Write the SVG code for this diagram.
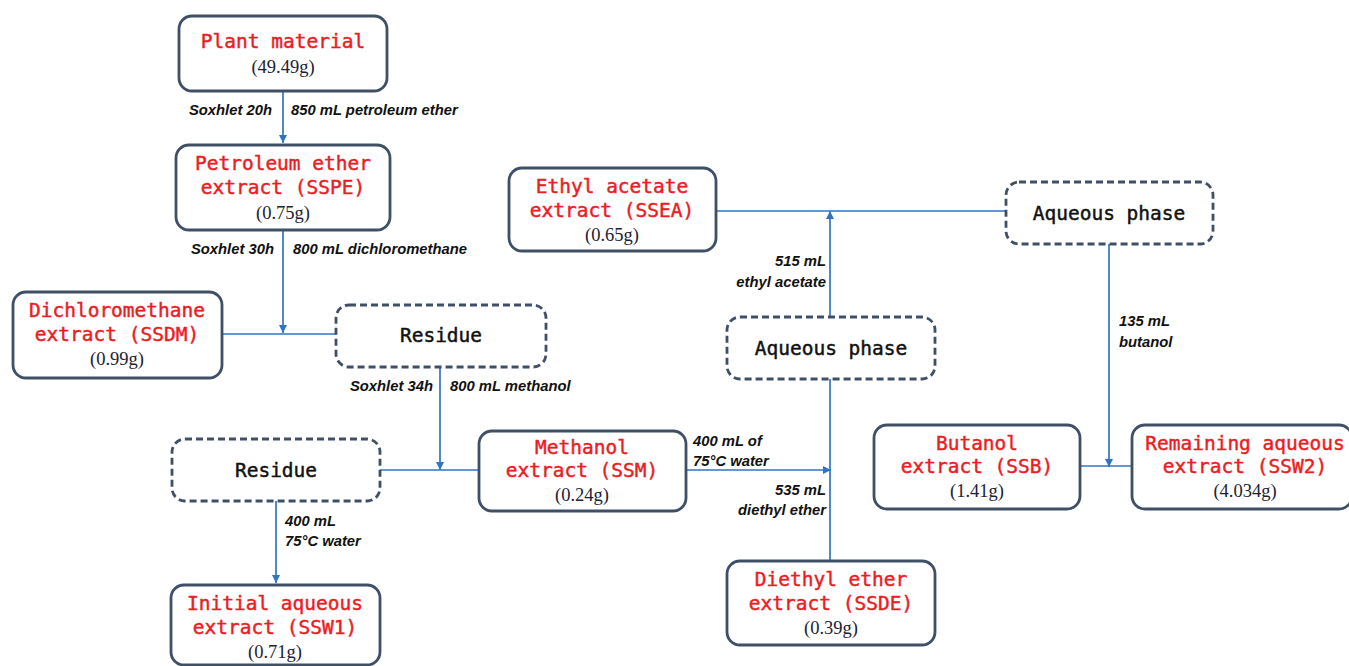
<svg xmlns="http://www.w3.org/2000/svg" width="1349" height="666" viewBox="0 0 1349 666">
<style>
.box{fill:#fff;stroke:#3f5066;stroke-width:2.8}
.dash{fill:#fff;stroke:#3f5066;stroke-width:2.8;stroke-dasharray:7 4}
.t{font-family:"DejaVu Sans Mono","Liberation Mono",monospace;font-size:19.5px;fill:#ec1c24;stroke:#ec1c24;stroke-width:0.45;text-anchor:middle}
.k{font-family:"DejaVu Sans Mono","Liberation Mono",monospace;font-size:19.5px;fill:#111;stroke:#111;stroke-width:0.45;text-anchor:middle}
.w{font-family:"Liberation Serif","Times New Roman",serif;font-size:18.5px;fill:#1c2233;text-anchor:middle}
.l{font-family:"Liberation Sans",Arial,sans-serif;font-size:14.8px;font-weight:bold;font-style:italic;fill:#111}
.r{text-anchor:end}
.c{fill:none;stroke:#2f75c5;stroke-width:1.7}
</style>
<defs>
<marker id="ah" viewBox="0 0 10 10" refX="10" refY="5" markerWidth="8" markerHeight="8" markerUnits="userSpaceOnUse" orient="auto">
<path d="M0,0 L10,5 L0,10 z" fill="#2f75c5"/>
</marker>
</defs>
<rect width="1349" height="666" fill="#fff"/>
<g id="connectors">
<path class="c" d="M283,92 V143" marker-end="url(#ah)"/>
<path class="c" d="M283,230 V333" marker-end="url(#ah)"/>
<path class="c" d="M222,334 H336"/>
<path class="c" d="M440,367 V470" marker-end="url(#ah)"/>
<path class="c" d="M380,470 H479"/>
<path class="c" d="M276,501 V583" marker-end="url(#ah)"/>
<path class="c" d="M686,470 H831" marker-end="url(#ah)"/>
<path class="c" d="M830,561 V379"/>
<path class="c" d="M830,317 V211" marker-end="url(#ah)"/>
<path class="c" d="M716,211 H1006"/>
<path class="c" d="M1109,244 V467" marker-end="url(#ah)"/>
<path class="c" d="M1080,466 H1132"/>
</g>
<g id="labels">
<text class="l r" x="272" y="115">Soxhlet 20h</text>
<text class="l" x="291" y="115">850 mL petroleum ether</text>
<text class="l r" x="274" y="254">Soxhlet 30h</text>
<text class="l" x="293" y="254">800 mL dichloromethane</text>
<text class="l r" x="433" y="391">Soxhlet 34h</text>
<text class="l" x="450" y="391">800 mL methanol</text>
<text class="l" x="285" y="526">400 mL</text>
<text class="l" x="285" y="546">75°C water</text>
<text class="l" x="693" y="446">400 mL of</text>
<text class="l" x="693" y="466">75°C water</text>
<text class="l r" x="826" y="495">535 mL</text>
<text class="l r" x="826" y="515">diethyl ether</text>
<text class="l r" x="826" y="266">515 mL</text>
<text class="l r" x="826" y="287">ethyl acetate</text>
<text class="l" x="1119" y="326">135 mL</text>
<text class="l" x="1119" y="347">butanol</text>
</g>
<g id="plant">
<rect class="box" x="179" y="16" width="208" height="75" rx="13"/>
<text class="t" x="283" y="48">Plant material</text>
<text class="w" x="283" y="73">(49.49g)</text>
</g>
<g id="sspe">
<rect class="box" x="176" y="145" width="214" height="85" rx="13"/>
<text class="t" x="283" y="170">Petroleum ether</text>
<text class="t" x="283" y="194">extract (SSPE)</text>
<text class="w" x="283" y="219">(0.75g)</text>
</g>
<g id="ssdm">
<rect class="box" x="13" y="292" width="209" height="86" rx="13"/>
<text class="t" x="117" y="317">Dichloromethane</text>
<text class="t" x="117" y="341">extract (SSDM)</text>
<text class="w" x="117" y="365">(0.99g)</text>
</g>
<g id="residue1">
<rect class="dash" x="336" y="305" width="210" height="62" rx="13"/>
<text class="k" x="441" y="342">Residue</text>
</g>
<g id="residue2">
<rect class="dash" x="172" y="439" width="208" height="62" rx="13"/>
<text class="k" x="276" y="477">Residue</text>
</g>
<g id="ssm">
<rect class="box" x="479" y="431" width="207" height="80" rx="13"/>
<text class="t" x="582" y="454">Methanol</text>
<text class="t" x="582" y="477">extract (SSM)</text>
<text class="w" x="582" y="501">(0.24g)</text>
</g>
<g id="ssw1">
<rect class="box" x="171" y="585" width="209" height="80" rx="13"/>
<text class="t" x="275" y="610">Initial aqueous</text>
<text class="t" x="275" y="634">extract (SSW1)</text>
<text class="w" x="275" y="658">(0.71g)</text>
</g>
<g id="ssea">
<rect class="box" x="509" y="168" width="207" height="83" rx="13"/>
<text class="t" x="612" y="193">Ethyl acetate</text>
<text class="t" x="612" y="217">extract (SSEA)</text>
<text class="w" x="612" y="241">(0.65g)</text>
</g>
<g id="aqueous1">
<rect class="dash" x="1006" y="182" width="207" height="62" rx="13"/>
<text class="k" x="1109" y="220">Aqueous phase</text>
</g>
<g id="aqueous2">
<rect class="dash" x="727" y="317" width="208" height="62" rx="13"/>
<text class="k" x="831" y="355">Aqueous phase</text>
</g>
<g id="ssb">
<rect class="box" x="874" y="425" width="206" height="84" rx="13"/>
<text class="t" x="977" y="450">Butanol</text>
<text class="t" x="977" y="473">extract (SSB)</text>
<text class="w" x="977" y="497">(1.41g)</text>
</g>
<g id="ssw2">
<rect class="box" x="1132" y="425" width="220" height="84" rx="13"/>
<text class="t" x="1245" y="450">Remaining aqueous</text>
<text class="t" x="1245" y="473">extract (SSW2)</text>
<text class="w" x="1245" y="497">(4.034g)</text>
</g>
<g id="ssde">
<rect class="box" x="727" y="561" width="208" height="84" rx="13"/>
<text class="t" x="831" y="586">Diethyl ether</text>
<text class="t" x="831" y="610">extract (SSDE)</text>
<text class="w" x="831" y="634">(0.39g)</text>
</g>
</svg>
